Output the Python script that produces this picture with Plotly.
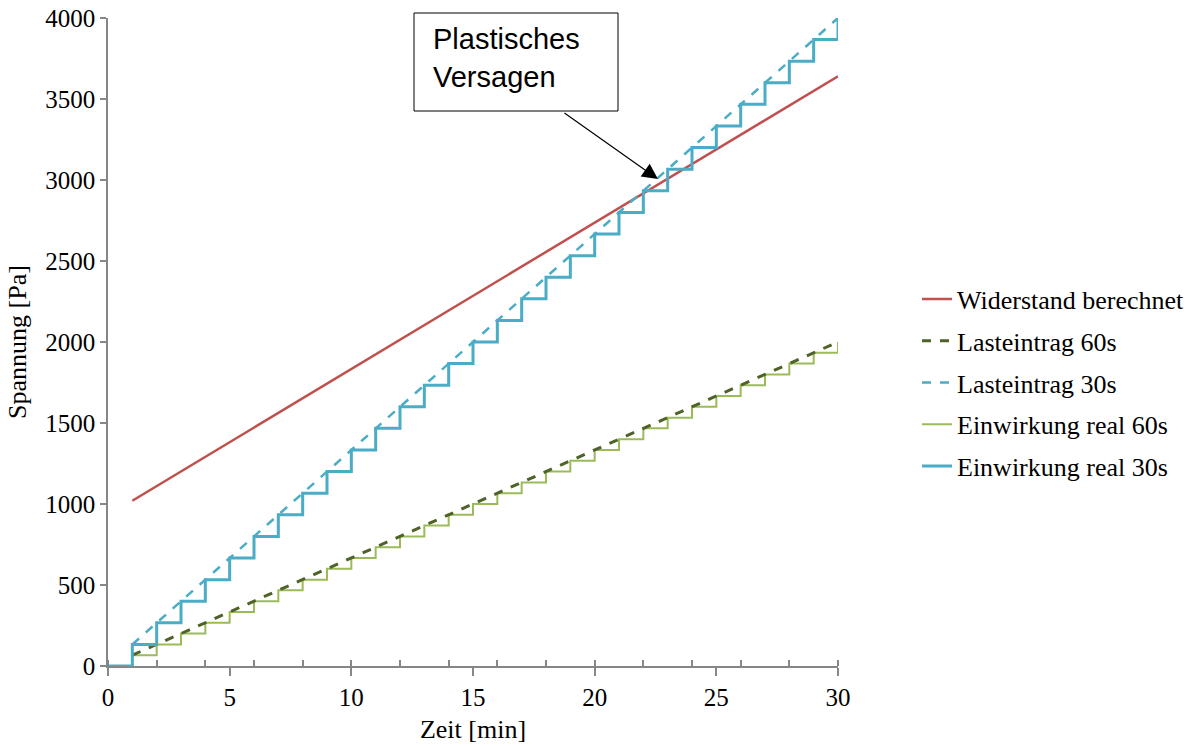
import plotly.graph_objects as go

# ---- data ----
minutes = list(range(0, 31))
real_30s = [0, 133, 267, 400, 533, 667, 800, 933, 1067, 1200, 1333, 1467, 1600, 1733, 1867,
            2000, 2133, 2267, 2400, 2533, 2667, 2800, 2933, 3067, 3200, 3333, 3467, 3600,
            3733, 3867, 4000]
real_60s = [0, 67, 133, 200, 267, 333, 400, 467, 533, 600, 667, 733, 800, 867, 933,
            1000, 1067, 1133, 1200, 1267, 1333, 1400, 1467, 1533, 1600, 1667, 1733, 1800,
            1867, 1933, 2000]
last_x = [1, 30]
last_30s = [133, 4000]
last_60s = [67, 2000]
wid_x = [1, 30]
wid_y = [1020, 3640]

serif = "Liberation Serif"

# body margin is removed by post_script, so figure pixels == page pixels
L, T = 108, 18
PW, PH = 730, 648
W, H = 1192, 746
R = W - L - PW
B = H - T - PH


def px_x(p):
    return (p - 108) / PW


def px_y(p):
    return (666 - p) / PH


fig = go.Figure()
fig.add_trace(go.Scatter(x=wid_x, y=wid_y, mode="lines", name="Widerstand berechnet",
                         line=dict(color="#C0504D", width=2.5), legendgroup="a",
                         legendrank=1))
fig.add_trace(go.Scatter(x=minutes, y=real_60s, mode="lines", name="Einwirkung real 60s",
                         line=dict(color="#9BBB59", width=2, shape="hv"), legendgroup="d",
                         legendrank=4))
fig.add_trace(go.Scatter(x=last_x, y=last_60s, mode="lines", name="Lasteintrag 60s",
                         line=dict(color="#4F6228", width=3, dash="dash"), legendgroup="b",
                         legendrank=2))
fig.add_trace(go.Scatter(x=last_x, y=last_30s, mode="lines", name="Lasteintrag 30s",
                         line=dict(color="#4BACC6", width=2.5, dash="dash"), legendgroup="c",
                         legendrank=3))
fig.add_trace(go.Scatter(x=minutes, y=real_30s, mode="lines", name="Einwirkung real 30s",
                         line=dict(color="#4BACC6", width=3, shape="hv"), legendgroup="e",
                         legendrank=5))

axis_col = "#868686"
fig.update_layout(
    width=W, height=H,
    margin=dict(l=L, r=R, t=T, b=B, autoexpand=False),
    paper_bgcolor="white", plot_bgcolor="white",
    font=dict(family=serif, size=25, color="black"),
    showlegend=True,
    legend=dict(x=px_x(917), xanchor="left", y=px_y(383), yanchor="middle",
                traceorder="grouped", tracegroupgap=5,
                font=dict(family=serif, size=26, color="black")),
    xaxis=dict(range=[0, 30], dtick=5, tick0=0, showgrid=False, zeroline=False,
               automargin=False, ticklabeloverflow="allow",
               showline=True, linecolor=axis_col, linewidth=1.5,
               ticks="outside", ticklen=8, tickcolor=axis_col, tickwidth=1.5,
               minor=dict(dtick=2, ticks="inside", ticklen=6, tickcolor=axis_col, tickwidth=1.5),
               title=dict(text="Zeit [min]", font=dict(family=serif, size=26), standoff=10),
               tickfont=dict(family=serif, size=25)),
    yaxis=dict(range=[0, 4000], dtick=500, showgrid=False, zeroline=False,
               automargin=False, ticklabeloverflow="allow",
               showline=True, linecolor=axis_col, linewidth=1.5,
               ticks="outside", ticklen=6, tickcolor=axis_col, tickwidth=1.5,
               title=dict(text="Spannung [Pa]", font=dict(family=serif, size=26), standoff=11),
               tickfont=dict(family=serif, size=25)),
)

# annotation box
fig.add_shape(type="rect", xref="paper", yref="paper",
              x0=px_x(414), x1=px_x(618), y0=px_y(111), y1=px_y(13),
              line=dict(color="black", width=1), fillcolor="white", layer="above")
fig.add_annotation(xref="paper", yref="paper", x=px_x(431), y=px_y(58),
                   xanchor="left", yanchor="middle", showarrow=False, align="left",
                   text="Plastisches<br>Versagen",
                   font=dict(family="Liberation Sans", size=29, color="black"))
fig.add_annotation(x=22.6, y=3006, xref="x", yref="y", text="", showarrow=True,
                   ax=-95, ay=-67, arrowhead=2, arrowsize=2.6, arrowwidth=1.2,
                   arrowcolor="black")

fig.write_html("out.html", config={"displayModeBar": False},
               post_script="document.body.style.margin='0';document.body.style.padding='0';")
